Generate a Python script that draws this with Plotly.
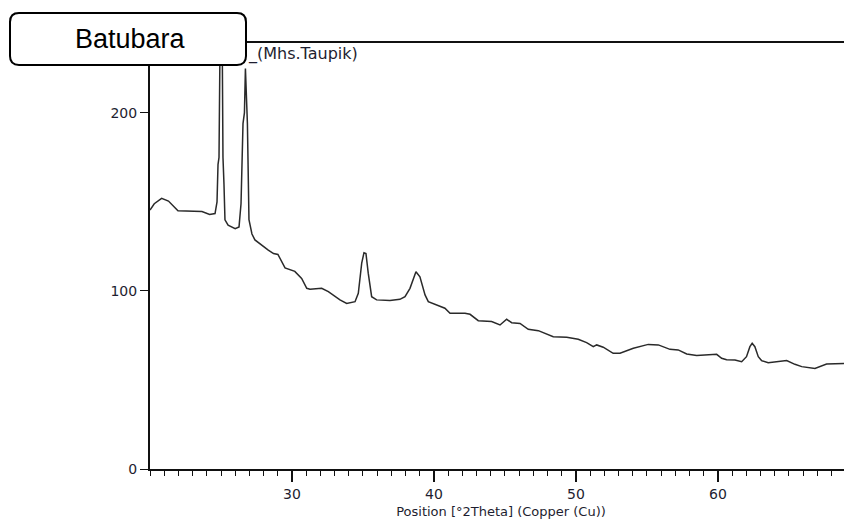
import plotly.graph_objects as go

# ---- data ----
two_theta = [20.0, 20.3, 20.82, 21.3, 21.97, 22.8, 23.66, 24.2, 24.58, 24.72,
             24.79, 24.86, 24.93, 25.0, 25.07, 25.14, 25.21, 25.28, 25.5, 26.0,
             26.27, 26.41, 26.55, 26.65, 26.72, 26.79, 26.86, 26.97, 27.18, 27.39,
             27.8, 28.33, 28.7, 29.01, 29.51, 29.86, 30.2, 30.68, 31.04, 31.27,
             32.09, 32.56, 33.38, 33.85, 34.44, 34.67, 34.91, 35.07, 35.21, 35.37,
             35.61, 35.96, 36.9, 37.6, 37.96, 38.31, 38.73, 39.01, 39.37, 39.6,
             40.19, 40.77, 41.13, 42.18, 42.54, 43.12, 44.06, 44.65, 45.12, 45.47,
             46.06, 46.64, 47.35, 48.4, 49.35, 50.16, 50.75, 51.22, 51.46, 51.92,
             52.62, 53.1, 54.04, 55.09, 55.8, 56.62, 57.2, 57.8, 58.5, 59.44,
             59.91, 60.26, 60.61, 61.2, 61.67, 62.01, 62.25, 62.41, 62.6, 62.84,
             63.07, 63.54, 64.25, 64.84, 65.42, 65.9, 66.83, 67.65, 69.44]
intensity = [145.5, 149, 152, 150.5, 145, 144.8, 144.6, 143, 143.5, 150,
             171, 175, 260, 300, 260, 175, 160, 140, 137, 135,
             136, 149, 194, 200, 225, 210, 194, 140, 132, 128.7,
             126, 123, 121, 120.5, 113, 111.8, 111, 107, 101.5, 101,
             101.5, 99.6, 95, 93, 94, 98.7, 115.6, 121.5, 121, 110,
             96.8, 95, 94.6, 95.3, 96.8, 101.5, 110.8, 108, 97.8, 94,
             92, 90.3, 87.5, 87.5, 86.9, 83.3, 82.8, 80.9, 84.1, 82.2,
             81.8, 78.5, 77.7, 74.3, 74, 72.9, 71, 68.7, 69.7, 68.4,
             65, 65, 67.8, 70, 69.7, 67.2, 66.9, 64.6, 63.7, 63.9,
             64.4, 62.2, 61.4, 61.2, 60.3, 63.1, 68.7, 70.6, 68.7, 63.1,
             60.9, 59.7, 60.5, 60.9, 58.8, 57.5, 56.5, 59, 59.4]
assert len(two_theta) == len(intensity)

x_ticks = [30, 40, 50, 60]
y_ticks = [0, 100, 200]
x_title = "Position [°2Theta] (Copper (Cu))"
box_label = "Batubara"
sample_label = "_(Mhs.Taupik)"

# page body has an 8px default margin: figure sized to fill the window from (8,8)
OFF = 8
W, H = 852 - OFF, 522 - OFF
ML, MR, MT, MB = 150 - OFF, 0, 43 - OFF, 522 - 469
PW, PH = W - ML - MR, H - MT - MB


def px_to_paper(px, py):
    """page pixel -> paper fraction"""
    return (px - OFF - ML) / PW, (H - MB - (py - OFF)) / PH


def rounded_rect(x0, y0, x1, y1, r):
    a = px_to_paper
    p = [
        ("M", a(x0 + r, y0)), ("L", a(x1 - r, y0)), ("Q", a(x1, y0), a(x1, y0 + r)),
        ("L", a(x1, y1 - r)), ("Q", a(x1, y1), a(x1 - r, y1)),
        ("L", a(x0 + r, y1)), ("Q", a(x0, y1), a(x0, y1 - r)),
        ("L", a(x0, y0 + r)), ("Q", a(x0, y0), a(x0 + r, y0)),
    ]
    parts = []
    for item in p:
        coords = " ".join(f"{c[0]:.5f},{c[1]:.5f}" for c in item[1:])
        parts.append(f"{item[0]}{coords}")
    return " ".join(parts) + " Z"


fig = go.Figure()
fig.add_trace(go.Scatter(
    x=two_theta, y=intensity, mode="lines",
    line=dict(color="#2a2a2a", width=1.5), showlegend=False, hoverinfo="skip",
))

tick_font = dict(family="DejaVu Sans", size=14, color="#1e1e30")

fig.update_layout(
    width=W, height=H,
    margin=dict(l=ML, r=MR, t=MT, b=MB, pad=0),
    paper_bgcolor="white", plot_bgcolor="white",
    xaxis=dict(
        range=[20, 69.44], tickvals=x_ticks, ticks="outside", ticklen=11,
        tickwidth=1.5, tickcolor="#111", showline=True, linecolor="#111",
        linewidth=2, mirror=True, showgrid=False, zeroline=False,
        tickfont=tick_font,
        minor=dict(dtick=1, tick0=0, ticks="outside", ticklen=5,
                   tickwidth=1, tickcolor="#111", showgrid=False),
        title=dict(text=x_title, font=dict(family="DejaVu Sans", size=13,
                                            color="#1e1e30"), standoff=6),
    ),
    yaxis=dict(
        range=[0, 239.3], tickvals=y_ticks, ticks="outside", ticklen=8,
        tickwidth=1, tickcolor="#111", showline=True, linecolor="#111",
        linewidth=2, showgrid=False, zeroline=False, tickfont=tick_font,
    ),
    shapes=[dict(
        type="path", xref="paper", yref="paper",
        path=rounded_rect(10, 13, 246, 65, 9),
        line=dict(color="black", width=2), fillcolor="white", layer="above",
    )],
    annotations=[
        dict(text=box_label, xref="paper", yref="paper",
             x=px_to_paper(130, 39)[0], y=px_to_paper(130, 39)[1],
             xanchor="center", yanchor="middle", showarrow=False,
             font=dict(family="Liberation Sans", size=27, color="black")),
        dict(text=sample_label, xref="paper", yref="paper",
             x=px_to_paper(246, 54)[0], y=px_to_paper(246, 54)[1],
             xanchor="left", yanchor="middle", showarrow=False,
             font=dict(family="DejaVu Sans", size=16, color="#1e1e30")),
    ],
)

fig.write_html("out.html")
